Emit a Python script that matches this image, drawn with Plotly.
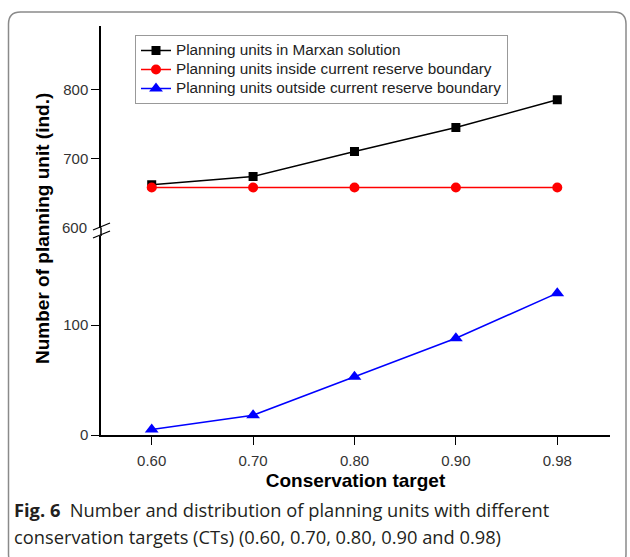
import plotly.graph_objects as go

# ---- data ----
targets = ["0.60", "0.70", "0.80", "0.90", "0.98"]
marxan_units = [662, 674, 710, 745, 785]
inside_units = [658, 658, 658, 658, 658]
outside_units = [5, 18, 53, 88, 129]

names = [
    "Planning units in Marxan solution",
    "Planning units inside current reserve boundary",
    "Planning units outside current reserve boundary",
]

W, H = 630, 557
L, R, T, B = 101, 20, 26, 122
PW = W - L - R
PH = H - T - B


def xp(px):
    return (px - L) / PW


def yp(py):
    return (H - B - py) / PH


def lg(name):
    return f'<span style="font-size:15.3px">{name}</span>'


fig = go.Figure()
fig.add_trace(go.Scatter(
    x=targets, y=marxan_units, yaxis="y2", name=lg(names[0]), mode="lines+markers",
    line=dict(color="black", width=1.5),
    marker=dict(symbol="square", size=9, color="black")))
fig.add_trace(go.Scatter(
    x=targets, y=inside_units, yaxis="y2", name=lg(names[1]), mode="lines+markers",
    line=dict(color="#ff0000", width=1.5),
    marker=dict(symbol="circle", size=10, color="#ff0000")))
fig.add_trace(go.Scatter(
    x=targets, y=outside_units, yaxis="y", name=lg(names[2]), mode="lines+markers",
    line=dict(color="#0000ff", width=1.5),
    marker=dict(symbol="triangle-up", size=12, color="#0000ff")))

SANS = "Liberation Sans, Arial, sans-serif"
tickfont = dict(family=SANS, size=15, color="#333333")
lower_top = yp(236)
upper_bot = yp(227.5)

fig.update_layout(
    width=W, height=H,
    margin=dict(l=L, r=R, t=T, b=B),
    paper_bgcolor="white", plot_bgcolor="white",
    showlegend=True,
    legend=dict(x=xp(135), y=yp(35), xanchor="left", yanchor="top",
                bgcolor="white", bordercolor="#999999", borderwidth=1,
                font=dict(family=SANS, size=12, color="#222222"),
                tracegroupgap=0, itemwidth=30),
    xaxis=dict(type="category", categoryorder="array", categoryarray=targets,
               range=[-0.5, 4.52], showline=True, linecolor="black", linewidth=1.5,
               ticks="outside", ticklen=8, tickcolor="black", tickwidth=1.2,
               ticklabelstandoff=3,
               tickfont=tickfont, showgrid=False, zeroline=False, anchor="y",
               title=dict(text="<b>Conservation target</b>", standoff=6,
                          font=dict(family=SANS, size=19, color="black"))),
    yaxis=dict(domain=[0, lower_top], range=[0, 181], tickvals=[0, 100],
               showline=True, linecolor="black", linewidth=1.5,
               ticks="outside", ticklen=8, tickcolor="black", tickwidth=1.2,
               tickfont=tickfont, showgrid=False, zeroline=False, anchor="x"),
    yaxis2=dict(domain=[upper_bot, 1], range=[600, 892], tickvals=[700, 800],
                showline=True, linecolor="black", linewidth=1.5,
                ticks="outside", ticklen=8, tickcolor="black", tickwidth=1.2,
                tickfont=tickfont, showgrid=False, zeroline=False, anchor="x"),
)

# y-axis title
fig.add_annotation(text="<b>Number of planning unit (ind.)</b>", xref="paper", yref="paper",
                   x=xp(42), y=yp(229), xanchor="center", yanchor="middle",
                   textangle=-90, showarrow=False,
                   font=dict(family=SANS, size=19, color="black"))
# 600 label at the break
fig.add_annotation(text="600", xref="paper", yref="y2", x=xp(89), y=600, xanchor="right",
                   showarrow=False, font=tickfont)

# axis break marks
shapes = []
shapes.append(dict(type="line", xref="paper", yref="paper", x0=0, x1=0, y0=lower_top, y1=upper_bot,
                   line=dict(color="black", width=1.5)))
for y0 in (230, 238):
    shapes.append(dict(type="line", xref="paper", yref="paper",
                       x0=xp(93), y0=yp(y0), x1=xp(110), y1=yp(y0 - 7),
                       line=dict(color="black", width=1.3)))

# rounded frame
fl, fr, ft, fb, rad = 8.5, 626, 12, 566, 12
rx, ry = rad / PW, rad / PH
x0, x1, y0, y1 = xp(fl), xp(fr), yp(fb), yp(ft)
path = (f"M {x0+rx},{y1} L {x1-rx},{y1} Q {x1},{y1} {x1},{y1-ry} "
        f"L {x1},{y0+ry} Q {x1},{y0} {x1-rx},{y0} L {x0+rx},{y0} Q {x0},{y0} {x0},{y0+ry} "
        f"L {x0},{y1-ry} Q {x0},{y1} {x0+rx},{y1} Z")
shapes.append(dict(type="path", xref="paper", yref="paper", path=path,
                   line=dict(color="#8a8a8a", width=1.5)))
fig.update_layout(shapes=shapes)

capfont = dict(family="Open Sans, Noto Sans, sans-serif", size=18.3, color="#231f20")
fig.add_annotation(text="<b>Fig. 6</b>\u00a0\u00a0Number and distribution of planning units with different",
                   xref="paper", yref="paper", x=xp(12), y=yp(509), xanchor="left", yanchor="middle",
                   showarrow=False, font=capfont)
fig.add_annotation(text="conservation targets (CTs) (0.60, 0.70, 0.80, 0.90 and 0.98)",
                   xref="paper", yref="paper", x=xp(12), y=yp(536), xanchor="left", yanchor="middle",
                   showarrow=False, font=capfont)

fig.write_html("out.html", config={"displayModeBar": False},
               post_script="document.body.style.margin='0';")
